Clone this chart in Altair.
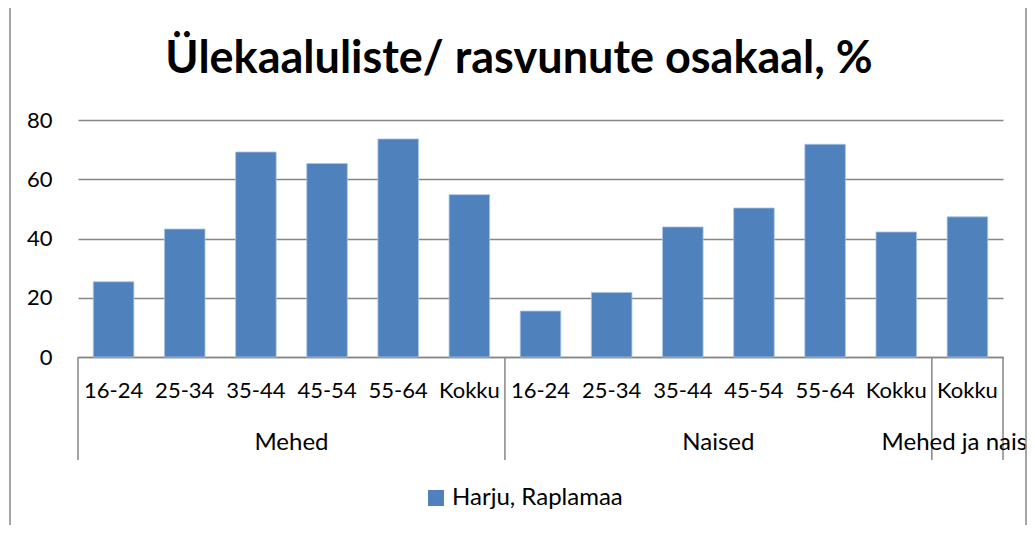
import altair as alt
import pandas as pd

title_text = "Ülekaaluliste/ rasvunute osakaal, %"
series_name = "Harju, Raplamaa"
groups = ["Mehed"] * 6 + ["Naised"] * 6 + ["Mehed ja naised"]
ages = ["16-24", "25-34", "35-44", "45-54", "55-64", "Kokku",
        "16-24", "25-34", "35-44", "45-54", "55-64", "Kokku",
        "Kokku"]
values = [25.4, 43.2, 69.2, 65.3, 73.6, 54.8,
          15.5, 21.8, 43.9, 50.3, 71.8, 42.2, 47.3]

group_names = ["Mehed", "Naised", "Mehed ja naised"]
group_start = [0, 6, 12]
group_end = [6, 12, 13]
separators = [0, 6, 12, 13]

FONT = "Lato"
BLUE = "#4F81BD"
GRID = "#868686"

keys = [f"{i:02d}|{a}" for i, a in enumerate(ages)]
df = pd.DataFrame({"key": keys, "age": ages, "group": groups,
                   "value": values, "series": [series_name] * len(values)})
n = len(values)

bars = alt.Chart(df).mark_bar(stroke="#A9C4E6", strokeWidth=0.8).encode(
    x=alt.X("key:N", sort=keys, title=None,
            scale=alt.Scale(paddingInner=0.43, paddingOuter=0.215),
            axis=alt.Axis(labelExpr="split(datum.value, '|')[1]", labelAngle=0,
                          labelFontSize=22, labelFont=FONT, labelColor="black",
                          labelPadding=23, ticks=False, domainColor=GRID,
                          domainWidth=1.5, grid=False)),
    y=alt.Y("value:Q", title=None,
            scale=alt.Scale(domain=[0, 80]),
            axis=alt.Axis(values=[0, 20, 40, 60, 80], labelFontSize=22, labelFont=FONT,
                          labelColor="black", labelPadding=26, ticks=False, domain=False,
                          gridColor=GRID, gridWidth=1.5, gridOpacity=1)),
    color=alt.Color("series:N", scale=alt.Scale(range=[BLUE]),
                    legend=alt.Legend(title=None, orient="none", legendX=346, legendY=366,
                                      symbolType="square", symbolSize=256,
                                      symbolStrokeWidth=0, labelFontSize=24, labelLimit=400,
                                      labelFont=FONT, labelColor="black", labelOffset=4)),
)

xq = alt.Scale(domain=[0, n], nice=False, zero=False)

sep_df = pd.DataFrame({"pos": separators})
seps = alt.Chart(sep_df).mark_rule(color=GRID, strokeWidth=1.5).encode(
    x=alt.X("pos:Q", scale=xq, axis=None),
    y=alt.value(237), y2=alt.value(340),
)

grp_df = pd.DataFrame({"name": group_names, "start": group_start, "end": group_end})
grp = alt.Chart(grp_df).transform_calculate(mid="(datum.start + datum.end) / 2").mark_text(
    fontSize=24, font=FONT, color="black", baseline="middle", align="center"
).encode(
    x=alt.X("mid:Q", scale=xq, axis=None),
    y=alt.value(323),
    text="name:N",
)

title = alt.Chart(pd.DataFrame({"t": [title_text]})).mark_text(
    fontSize=45, font=FONT, fontWeight="bold", color="black", baseline="middle", align="center"
).encode(x=alt.value(441), y=alt.value(-61), text="t:N")

border = alt.Chart(pd.DataFrame({"b": [-68, 948]})).mark_rule(color="#878787", strokeWidth=1.5).encode(
    x=alt.X("b:Q", scale=None), y=alt.value(-120), y2=alt.value(410)
)

chart = alt.layer(bars, seps, grp, title, border).resolve_scale(x="independent").properties(
    width=925, height=237,
    autosize=alt.AutoSizeParams(type="none"),
    padding={"left": 70, "top": 112, "right": 24, "bottom": 168},
).configure_view(stroke=None)

chart.save("out.html", embed_options={"renderer": "svg", "actions": False})
